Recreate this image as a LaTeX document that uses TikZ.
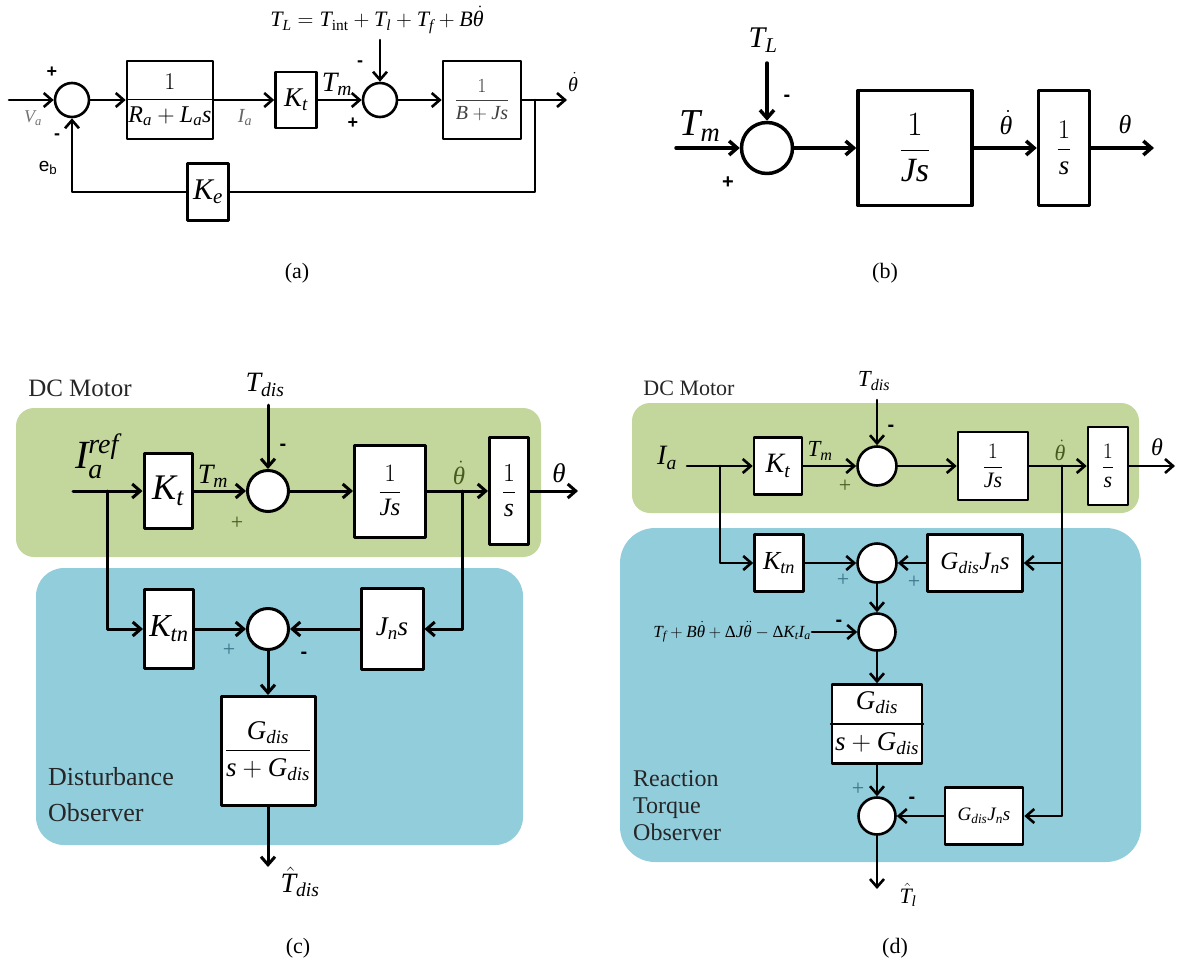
\documentclass[tikz,border=0pt]{standalone}
\usepackage{fix-cm}
\usepackage{amsmath}
\usepackage{fontspec}
\setmainfont{Liberation Serif}
\setsansfont{Liberation Sans}
\usetikzlibrary{arrows.meta}
\definecolor{motorgreen}{RGB}{195,214,155}
\definecolor{obsblue}{RGB}{146,205,220}
\definecolor{olivetxt}{RGB}{72,90,30}
\definecolor{tealtxt}{RGB}{60,115,135}
\newcommand{\fsz}[1]{\fontsize{#1}{#1}\selectfont}
\newcommand{\itv}[1]{\textit{#1}}
% accents shifted to sit over the slanted letters
\newcommand{\thdot}{\dot{\itv{θ}\mkern3mu}\mkern-3mu}
\newcommand{\thddot}{\ddot{\itv{θ}\mkern3mu}\mkern-3mu}
\newcommand{\That}{\hat{\itv{T}\mkern3mu}\mkern-3mu}

\begin{document}
\begin{tikzpicture}[line cap=round,line join=round,>={Straight Barb[length=8pt,width=14pt]},x=1pt,y=-1pt,
  blk/.style={draw,fill=white,inner sep=0pt},
  sumc/.style={circle,draw,fill=white,inner sep=0pt},
  lbl/.style={inner sep=0pt},
  sgn/.style={inner sep=0pt,font=\sffamily\bfseries\fsz{18}},
  pls/.style={inner sep=0pt,font=\fsz{22}},
  mns/.style={inner sep=0pt,font=\sffamily\bfseries\fsz{20}}]
\useasboundingbox (0,0) rectangle (1177,969);

% (a) armature circuit with back emf
\begin{scope}[line width=2.6pt]
\node[sumc,minimum size=34] (a-s1) at (72,100) {};
\node[blk,minimum width=86,minimum height=78,font=\fsz{24}] (a-pe) at (170,100) {$\dfrac{1}{\itv{R}_{\itv{a}}+\itv{L}_{\itv{a}}\itv{s}}$};
\node[blk,minimum width=41,minimum height=56,font=\fsz{27}] (a-kt) at (296,100) {$\itv{K}_{\itv{t}}$};
\node[sumc,minimum size=34] (a-s2) at (380,100) {};
\node[blk,minimum width=78,minimum height=78,font=\fsz{20},text=black!75] (a-me) at (482,100) {$\dfrac{1}{\itv{B}+\itv{J}\itv{s}}$};
\node[blk,minimum width=41,minimum height=57,font=\fsz{30}] (a-ke) at (208,192) {$\itv{K}_{\itv{e}}$};
\coordinate (a-in) at (9,100);
\coordinate (a-tap) at (535,100);
\coordinate (a-out) at (567,100);
\coordinate (a-ld) at (380,40);
\draw[->] (a-in) -- (a-s1);
\draw[->] (a-s1) -- (a-pe);
\draw[->] (a-pe) -- (a-kt);
\draw[->] (a-kt) -- (a-s2);
\draw[->] (a-s2) -- (a-me);
\draw[->] (a-me) -- (a-out);
\draw (a-tap) |- (a-ke);
\draw[->] (a-ke) -| (a-s1);
\draw[->] (a-ld) -- (a-s2);
\end{scope}
\node[lbl,font=\fsz{22}] (a-eq) at (377,20) {$\itv{T}_{\itv{L}}=\itv{T}_{\textrm{int}}+\itv{T}_{\itv{l}}+\itv{T}_{\itv{f}}+\itv{B}\thdot$};
\node[sgn] (a-p1) at (52,72) {+};
\node[sgn] (a-m1) at (57,137) {-};
\node[lbl,font=\fsz{18},text=black!55] (a-va) at (33,118) {$\itv{V}_{\itv{a}}$};
\node[lbl,font=\sffamily\fsz{19}] (a-eb) at (48,168) {e\textsubscript{b}};
\node[lbl,font=\fsz{20},text=black!60] (a-ia) at (245,118) {$\itv{I}_{\itv{a}}$};
\node[lbl,font=\fsz{28}] (a-tm) at (337,84) {$\itv{T}_{\itv{m}}$};
\node[sgn] (a-m2) at (360,64) {-};
\node[sgn] (a-p2) at (353,123) {+};
\node[lbl,font=\fsz{20}] (a-w) at (573,82) {$\thdot$};
\node[lbl,font=\fsz{22}] (a-cap) at (297,273) {(a)};

% (b) mechanical part
\begin{scope}[line width=3.5pt]
\node[sumc,minimum size=51] (b-s1) at (767,148) {};
\node[blk,minimum width=114,minimum height=115,font=\fsz{34}] (b-js) at (915,148) {$\dfrac{1}{\itv{J}\itv{s}}$};
\node[blk,minimum width=51,minimum height=115,font=\fsz{27}] (b-int) at (1064,148) {$\dfrac{1}{\itv{s}}$};
\coordinate (b-src) at (676,148);
\coordinate (b-ld) at (767,63);
\coordinate (b-out) at (1154,148);
\draw[->] (b-src) -- (b-s1);
\draw[->] (b-s1) -- (b-js);
\draw[->] (b-js) -- (b-int);
\draw[->] (b-int) -- (b-out);
\draw[->] (b-ld) -- (b-s1);
\end{scope}
\node[lbl,font=\fsz{30}] (b-tl) at (763,40) {$\itv{T}_{\itv{L}}$};
\node[lbl,font=\fsz{38}] (b-tm) at (700,126) {$\itv{T}_{\itv{m}}$};
\node[mns] (b-m1) at (787,98) {-};
\node[mns] (b-p1) at (728,183) {+};
\node[lbl,font=\fsz{26}] (b-w) at (1006,123) {$\thdot$};
\node[lbl,font=\fsz{26}] (b-th) at (1125,125) {$\itv{θ}$};
\node[lbl,font=\fsz{22}] (b-cap) at (885,273) {(b)};

% (c) disturbance observer
\fill[motorgreen,rounded corners=18pt] (16,408) rectangle (541,557);
\fill[obsblue,rounded corners=28pt] (36,568) rectangle (523,845);
\begin{scope}[line width=3pt]
\node[blk,minimum width=48,minimum height=75,font=\fsz{36}] (c-kt) at (168,491) {$\itv{K}_{\itv{t}}$};
\node[sumc,minimum size=41] (c-s1) at (268,491) {};
\node[blk,minimum width=71,minimum height=92,font=\fsz{25}] (c-js) at (390,491) {$\dfrac{1}{\itv{J}\itv{s}}$};
\node[blk,minimum width=39,minimum height=107,font=\fsz{26}] (c-int) at (509,491) {$\dfrac{1}{\itv{s}}$};
\node[blk,minimum width=49,minimum height=79,font=\fsz{32}] (c-ktn) at (169,629) {$\itv{K}_{\itv{tn}}$};
\node[sumc,minimum size=41] (c-s2) at (268,629) {};
\node[blk,minimum width=62,minimum height=81,font=\fsz{27}] (c-jn) at (392,629) {$\itv{J}_{\itv{n}}\itv{s}$};
\node[blk,minimum width=94,minimum height=109,font=\fsz{27}] (c-gq) at (268,751) {$\dfrac{\itv{G}_{\itv{dis}}}{\itv{s}+\itv{G}_{\itv{dis}}}$};
\coordinate (c-src) at (73,491);
\coordinate (c-br) at (107,491);
\coordinate (c-tap) at (462,491);
\coordinate (c-out) at (578,491);
\coordinate (c-ld) at (268,405);
\coordinate (c-est) at (268,867);
\draw (c-src) -- (c-br);
\draw[->] (c-br) -- (c-kt);
\draw[->] (c-br) |- (c-ktn);
\draw[->] (c-kt) -- (c-s1);
\draw[->] (c-s1) -- (c-js);
\draw[->] (c-js) -- (c-int);
\draw[->] (c-int) -- (c-out);
\draw[->] (c-tap) |- (c-jn);
\draw[->] (c-jn) -- (c-s2);
\draw[->] (c-ktn) -- (c-s2);
\draw[->] (c-s2) -- (c-gq);
\draw[->] (c-gq) -- (c-est);
\draw[->] (c-ld) -- (c-s1);
\end{scope}
\node[lbl,font=\fsz{25},text=black!85] (c-dc) at (80,388) {DC Motor};
\node[lbl,font=\fsz{28}] (c-td) at (265,385) {$\itv{T}_{\itv{dis}}$};
\node[lbl,font=\fsz{40}] (c-ia) at (97,456) {$\itv{I}_{\itv{a}}^{\itv{ref}}$};
\node[lbl,font=\fsz{28}] (c-tm) at (213,476) {$\itv{T}_{\itv{m}}$};
\node[mns] (c-m1) at (283,447) {-};
\node[pls,text=olivetxt] (c-p1) at (237,523) {+};
\node[lbl,font=\fsz{25},text=olivetxt] (c-w) at (459,473) {$\thdot$};
\node[lbl,font=\fsz{27}] (c-th) at (559,473) {$\itv{θ}$};
\node[pls,text=tealtxt] (c-p2) at (229,650) {+};
\node[mns] (c-m2) at (304,655) {-};
\node[lbl,font=\fsz{28}] (c-hat) at (300,882) {$\That_{\itv{dis}}$};
\node[lbl,font={\fontsize{26}{36}\selectfont},text=black!85,align=left,anchor=west] (c-name) at (48,795) {Disturbance\\Observer};
\node[lbl,font=\fsz{22}] (c-cap) at (298,948) {(c)};

% (d) reaction torque observer
\fill[motorgreen,rounded corners=18pt] (632,403) rectangle (1139,513);
\fill[obsblue,rounded corners=35pt] (620,528) rectangle (1141,862);
\begin{scope}[line width=2.6pt]
\node[blk,minimum width=48,minimum height=57,font=\fsz{28}] (d-kt) at (778,466) {$\itv{K}_{\itv{t}}$};
\node[sumc,minimum size=39] (d-s1) at (877,466) {};
\node[blk,minimum width=70,minimum height=68,font=\fsz{22}] (d-js) at (993,466) {$\dfrac{1}{\itv{J}\itv{s}}$};
\node[blk,minimum width=40,minimum height=78,font=\fsz{22}] (d-int) at (1108,466) {$\dfrac{1}{\itv{s}}$};
\node[blk,minimum width=49,minimum height=57,font=\fsz{26}] (d-ktn) at (779,563) {$\itv{K}_{\itv{tn}}$};
\node[sumc,minimum size=39] (d-s2) at (877,563) {};
\node[blk,minimum width=95,minimum height=57,font=\fsz{25}] (d-gj) at (975,563) {$\itv{G}_{\itv{dis}}\itv{J}_{\itv{n}}\itv{s}$};
\node[sumc,minimum size=37] (d-s3) at (877,632) {};
\node[blk,minimum width=90,minimum height=79] (d-gq) at (877,724) {};
\node[sumc,minimum size=37] (d-s4) at (877,816) {};
\node[blk,minimum width=78,minimum height=57,font=\fsz{19}] (d-gjl) at (984,816) {$\itv{G}_{\itv{dis}}\itv{J}_{\itv{n}}\itv{s}$};
\node[lbl,font=\fsz{17},anchor=east] (d-tf) at (812,632) {$\itv{T}_{\itv{f}}+\itv{B}\thdot+\text{Δ}\itv{J}\thddot-\text{Δ}\itv{K}_{\itv{t}}\itv{I}_{\itv{a}}$};
\coordinate (d-src) at (687,466);
\coordinate (d-br) at (720,466);
\coordinate (d-tap) at (1062,466);
\coordinate (d-out) at (1175,466);
\coordinate (d-ld) at (877,400);
\coordinate (d-est) at (877,889);
\draw[line width=1.8pt] (d-gq.west) -- (d-gq.east);
\draw (d-src) -- (d-br);
\draw[->] (d-br) -- (d-kt);
\draw[->] (d-br) |- (d-ktn);
\draw[->] (d-kt) -- (d-s1);
\draw[->] (d-s1) -- (d-js);
\draw[->] (d-js) -- (d-int);
\draw[->] (d-int) -- (d-out);
\draw[->] (d-tap) |- (d-gj);
\draw[->] (d-tap) |- (d-gjl);
\draw[->] (d-gj) -- (d-s2);
\draw[->] (d-ktn) -- (d-s2);
\draw[->] (d-s2) -- (d-s3);
\draw[->] (d-tf) -- (d-s3);
\draw[->] (d-s3) -- (d-gq);
\draw[->] (d-gq) -- (d-s4);
\draw[->] (d-gjl) -- (d-s4);
\draw[->] (d-s4) -- (d-est);
\draw[->] (d-ld) -- (d-s1);
\end{scope}
\node[lbl,font=\fsz{27}] (d-gn) at (877,703) {$\itv{G}_{\itv{dis}}$};
\node[lbl,font=\fsz{27}] (d-gd) at (877,744) {$\itv{s}+\itv{G}_{\itv{dis}}$};
\node[lbl,font=\fsz{22},text=black!85] (d-dc) at (689,388) {DC Motor};
\node[lbl,font=\fsz{23}] (d-td) at (874,381) {$\itv{T}_{\itv{dis}}$};
\node[lbl,font=\fsz{28}] (d-ia) at (667,458) {$\itv{I}_{\itv{a}}$};
\node[lbl,font=\fsz{23}] (d-tm) at (820,451) {$\itv{T}_{\itv{m}}$};
\node[pls,text=olivetxt] (d-p1) at (845,486) {+};
\node[mns] (d-m1) at (891,428) {-};
\node[lbl,font=\fsz{22},text=olivetxt] (d-w) at (1060,450) {$\thdot$};
\node[lbl,font=\fsz{24}] (d-th) at (1157,447) {$\itv{θ}$};
\node[pls,text=tealtxt] (d-p2) at (843,580) {+};
\node[pls,text=tealtxt] (d-p3) at (914,582) {+};
\node[mns] (d-m3) at (839,623) {-};
\node[pls,text=tealtxt] (d-p4) at (858,789) {+};
\node[mns] (d-m4) at (912,800) {-};
\node[lbl,font=\fsz{22}] (d-hat) at (908,895) {$\That_{\itv{l}}$};
\node[lbl,font={\fontsize{24}{27}\selectfont},text=black!85,align=left,anchor=west] (d-name) at (633,806) {Reaction\\Torque\\Observer};
\node[lbl,font=\fsz{22}] (d-cap) at (895,948) {(d)};
\end{tikzpicture}
\end{document}
